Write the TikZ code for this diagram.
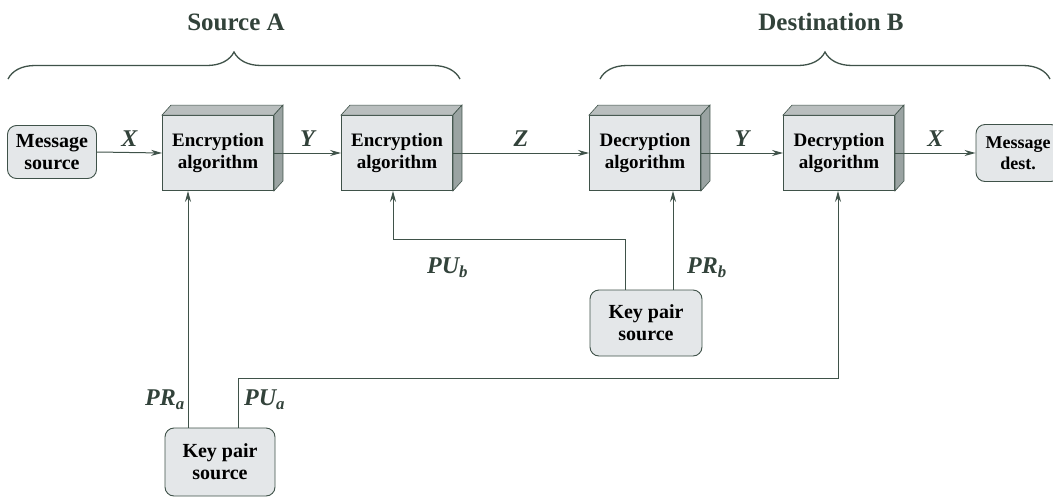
\documentclass[tikz,border=0pt]{standalone}
\usepackage{fontspec}
\setmainfont{Liberation Serif}
\usetikzlibrary{arrows.meta,calc,decorations.pathreplacing}
\definecolor{lc}{HTML}{3F5249}
\definecolor{boxfill}{HTML}{E4E7E9}
\definecolor{topfill}{HTML}{B9BEBE}
\definecolor{sidefill}{HTML}{9AA3A2}
\tikzset{
  alg/.style={draw=lc, fill=boxfill, line width=0.9pt, minimum width=111pt, minimum height=75pt,
    align=center, font=\fontsize{19}{22}\selectfont\bfseries, inner sep=1pt},
  rbox/.style={draw=lc, fill=boxfill, line width=0.9pt, rounded corners=9pt, align=center,
    font=\fontsize{20}{22}\selectfont\bfseries, inner sep=1pt},
  conn/.style={draw=lc, line width=1pt},
  arr/.style={conn, -{Stealth[length=11pt,width=6pt]}},
  lab/.style={font=\fontsize{24}{26}\selectfont\bfseries\itshape, text=lc!80!black, inner sep=1pt},
  ttl/.style={font=\fontsize{25}{28}\selectfont\bfseries, text=lc!80!black},
  brc/.style={draw=lc, line width=1.3pt, decorate, decoration={brace, amplitude=27pt}}
}
\newcommand{\cubefaces}[1]{%
  \fill[topfill, draw=lc, line width=0.6pt] (#1.north west) -- ++(9,-10) -- ([shift={(9,-10)}]#1.north east) -- (#1.north east) -- cycle;
  \fill[sidefill, draw=lc, line width=0.6pt] (#1.north east) -- ++(9,-10) -- ([shift={(9,-10)}]#1.south east) -- (#1.south east) -- cycle;
}
\begin{document}
\begin{tikzpicture}[x=1pt,y=-1pt]
\useasboundingbox (0,0) rectangle (1053,501);
\clip (0,0) rectangle (1053,501);
\fill[white] (0,0) rectangle (1053,501);

% titles and braces
\node[ttl] (srcA) at (236,22) {Source A};
\node[ttl] (dstB) at (831,22) {Destination B};
\coordinate (bA1) at (8,79);
\coordinate (bA2) at (460,79);
\coordinate (bB1) at (600,79);
\coordinate (bB2) at (1050,79);
\draw[brc] (bA1) -- (bA2);
\draw[brc] (bB1) -- (bB2);

% nodes
\node[rbox, minimum width=89pt, minimum height=53pt] (msrc) at (52,152) {Message\\source};
\node[alg] (enc1) at (218,153) {Encryption\\algorithm};
\cubefaces{enc1}
\node[alg] (enc2) at (397,153) {Encryption\\algorithm};
\cubefaces{enc2}
\node[alg] (dec1) at (645,153) {Decryption\\algorithm};
\cubefaces{dec1}
\node[alg] (dec2) at (839,153) {Decryption\\algorithm};
\cubefaces{dec2}
\node[rbox, minimum width=84pt, minimum height=57pt, font=\fontsize{18}{21}\selectfont\bfseries] (mdst) at (1018,153) {Message\\dest.};
\node[rbox, minimum width=112pt, minimum height=66pt] (kpB) at (646,323) {Key pair\\source};
\node[rbox, minimum width=110pt, minimum height=68pt] (kpA) at (220,462) {Key pair\\source};

% main flow
\draw[arr] (msrc.east) -- (enc1.west) node[lab, midway, above=5pt] (lx1) {X};
\draw[arr] (enc1.east) -- (enc2.west) node[lab, midway, above=5pt] (ly1) {Y};
\draw[arr] (enc2.east) -- (dec1.west) node[lab, midway, above=5pt] (lz) {Z};
\draw[arr] (dec1.east) -- (dec2.west) node[lab, midway, above=5pt] (ly2) {Y};
\draw[arr] (dec2.east) -- (mdst.west) node[lab, midway, above=5pt] (lx2) {X};

% key connectors
\draw[arr] (kpA.north -| 188,0) -- (enc1.south -| 188,0);
\node[lab, anchor=east] (lpra) at (186,400) {PR\textsubscript{a}};
\coordinate (pua1) at (238,378);
\coordinate (pua2) at (838,378);
\draw[arr] (kpA.north -| pua1) -- (pua1) -- (pua2) -- (dec2.south -| pua2);
\node[lab, anchor=west] (lpua) at (243,400) {PU\textsubscript{a}};

\coordinate (pub1) at (625,239);
\coordinate (pub2) at (393,239);
\draw[arr] (kpB.north -| pub1) -- (pub1) -- (pub2) -- (enc2.south -| pub2);
\node[lab, anchor=west] (lpub) at (426,268) {PU\textsubscript{b}};
\draw[arr] (kpB.north -| 673,0) -- (dec1.south -| 673,0);
\node[lab, anchor=west] (lprb) at (686,268) {PR\textsubscript{b}};
\end{tikzpicture}
\end{document}
